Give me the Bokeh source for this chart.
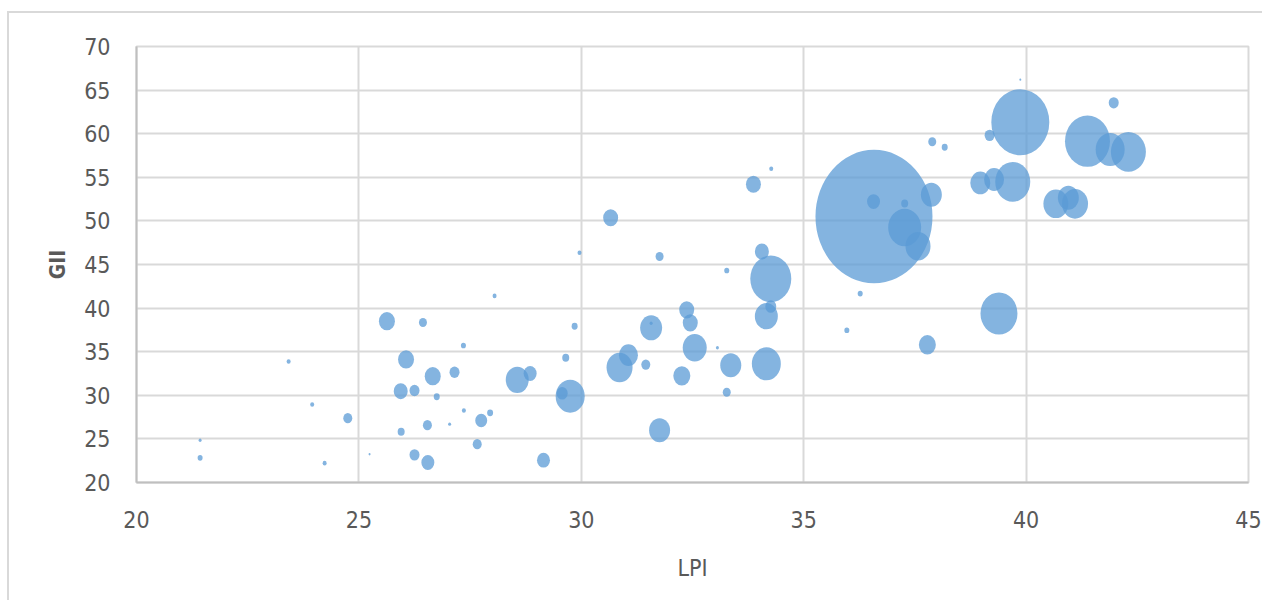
import math
from bokeh.plotting import figure
from bokeh.models import ColumnDataSource, Range1d, FixedTicker
from bokeh.embed import file_html
from bokeh.resources import INLINE

# ---- data ----
lpi = [21.43, 21.43, 23.42, 23.95, 24.23, 24.75, 25.24, 25.63, 26.44, 27.35,
       29.85, 26.06, 29.65, 26.66, 27.15, 28.56, 28.85, 25.94, 26.25, 26.75,
       29.75, 29.57, 27.36, 27.95, 27.75, 25.95, 26.54, 27.04, 27.66, 26.25,
       26.55, 29.15, 28.05, 29.96, 31.76, 33.27, 34.06, 34.26, 34.26, 34.16,
       31.57, 31.57, 32.37, 32.45, 32.55, 33.06, 31.06, 30.86, 31.45, 32.26,
       33.36, 34.16, 33.27, 31.76, 30.66, 33.87, 34.27, 36.58, 36.57, 37.27,
       37.27, 37.57, 37.87, 37.89, 38.17, 39.18, 38.97, 36.27, 35.97, 37.78,
       39.39, 39.87, 39.87, 41.97, 41.38, 41.89, 42.30, 39.28, 39.70, 40.67,
       40.95, 41.10]
gii = [24.85, 22.83, 33.88, 28.95, 22.22, 27.37, 23.24, 38.50, 38.35, 35.71,
       37.92, 34.11, 34.30, 32.19, 32.65, 31.77, 32.50, 30.47, 30.55, 29.83,
       29.90, 30.24, 28.26, 27.99, 27.11, 25.81, 26.57, 26.69, 24.39, 23.17,
       22.29, 22.56, 41.40, 46.34, 45.92, 44.31, 46.49, 43.36, 40.18, 39.07,
       37.74, 38.27, 39.80, 38.31, 35.45, 35.45, 34.60, 33.19, 33.53, 32.23,
       33.45, 33.61, 30.35, 26.00, 50.36, 54.21, 55.97, 50.50, 52.22, 52.00,
       49.24, 47.10, 52.99, 59.07, 58.45, 59.81, 54.35, 41.67, 37.46, 35.79,
       39.38, 66.20, 61.32, 63.54, 59.14, 58.19, 57.92, 54.75, 54.48, 51.96,
       52.65, 51.96]
bubble = [0.09, 0.25, 0.16, 0.16, 0.16, 0.81, 0.04, 2.56, 0.64, 0.25,
          0.36, 2.56, 0.49, 2.56, 1.00, 5.29, 1.69, 1.96, 1.00, 0.36,
          8.41, 1.21, 0.16, 0.36, 1.44, 0.49, 0.81, 0.09, 0.81, 1.00,
          1.69, 1.69, 0.16, 0.16, 0.64, 0.25, 1.96, 16.81, 1.21, 5.29,
          4.84, 0.09, 2.25, 2.25, 5.76, 0.09, 3.61, 6.76, 0.81, 2.89,
          4.41, 8.41, 0.64, 4.41, 2.25, 2.25, 0.16, 136.89, 1.69, 0.49,
          10.89, 6.25, 4.41, 0.64, 0.36, 1.00, 4.00, 0.25, 0.25, 2.89,
          13.69, 0.04, 33.64, 1.00, 20.25, 8.41, 12.25, 4.00, 12.25, 6.25,
          4.41, 6.76]

x_ticks = [20, 25, 30, 35, 40, 45]
y_ticks = [20, 25, 30, 35, 40, 45, 50, 55, 60, 65, 70]
x_title = "LPI"
y_title = "GII"

# bubble area proportional to value
diam = [10 * math.sqrt(v) for v in bubble]
src = ColumnDataSource(dict(x=lpi, y=gii, w=diam, h=[d * 1.14 for d in diam]))

p = figure(frame_width=1112, frame_height=436,
           min_border_left=136, min_border_right=14,
           min_border_top=46, min_border_bottom=118,
           x_range=Range1d(20, 45), y_range=Range1d(20, 70),
           output_backend="svg", toolbar_location=None,
           border_fill_color=None, background_fill_color="white")
p.styles = {"box-shadow": ("inset 0 11px 0 0 #ffffff, inset 7px 0 0 0 #ffffff, "
                           "inset 9px 0 0 0 #d9d9d9, inset 0 13px 0 0 #d9d9d9")}

p.ellipse(x="x", y="y", width="w", height="h",
          width_units="screen", height_units="screen", source=src,
          fill_color="#5B9BD5", fill_alpha=0.75, line_color=None)

FONT = "DejaVu Sans Condensed, Lato"
p.xaxis.ticker = FixedTicker(ticks=x_ticks)
p.yaxis.ticker = FixedTicker(ticks=y_ticks)
p.xaxis.axis_label = x_title
p.yaxis.axis_label = y_title
for ax in (p.xaxis, p.yaxis):
    ax.major_label_text_font = FONT
    ax.major_label_text_font_size = "23px"
    ax.major_label_text_color = "#595959"
    ax.axis_label_text_font = FONT
    ax.axis_label_text_font_size = "23px"
    ax.axis_label_text_color = "#595959"
    ax.axis_label_text_font_style = "normal"
    ax.major_tick_line_color = None
    ax.minor_tick_line_color = None
    ax.axis_line_color = "#BFBFBF"
    ax.axis_line_width = 2
p.yaxis.axis_label_text_font_style = "bold"
p.yaxis.axis_label_text_font_size = "21px"
p.yaxis.major_label_standoff = 20
p.xaxis.major_label_standoff = 22
p.xaxis.axis_label_standoff = 24
p.yaxis.axis_label_standoff = 11

p.grid.grid_line_color = "#D9D9D9"
p.grid.grid_line_width = 2
p.outline_line_color = "#D9D9D9"
p.outline_line_width = 2

open("out.html", "w").write(file_html(p, INLINE))
